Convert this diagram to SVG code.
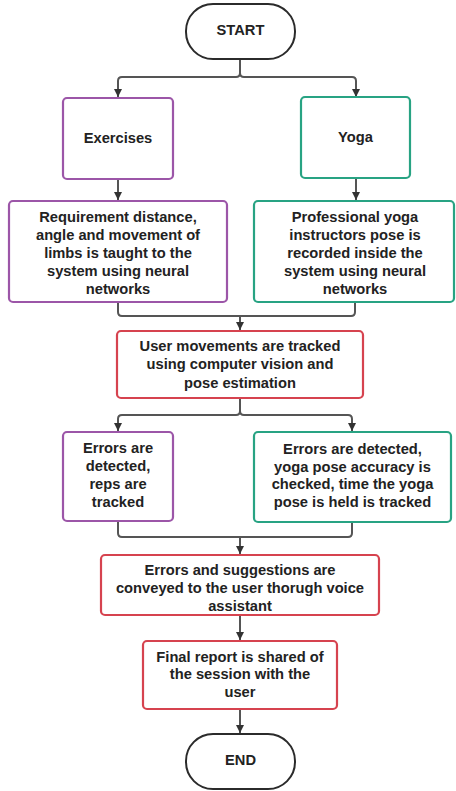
<svg xmlns="http://www.w3.org/2000/svg" width="456" height="791" viewBox="0 0 456 791">
<style>
text{font-family:"Liberation Sans",Arial,sans-serif;font-weight:bold;font-size:14.7px;fill:#222;text-anchor:middle}
.term{fill:#fff;stroke:#2b2b2b;stroke-width:2}
.pur{fill:#fff;stroke:#9c56a8;stroke-width:2.2}
.tea{fill:#fff;stroke:#28a383;stroke-width:2.2}
.red{fill:#fff;stroke:#d6434f;stroke-width:2.2}
.c{fill:none;stroke:#555;stroke-width:2}
</style>
<defs>
<marker id="ah" viewBox="0 0 10 10" refX="10" refY="5" markerWidth="8" markerHeight="8" markerUnits="userSpaceOnUse" orient="auto"><path d="M0,0 L10,5 L0,10 z" fill="#333"/></marker>
</defs>
<g id="connectors">
<path class="c" d="M240,59 V73 Q240,77 236,77 H122 Q118,77 118,81 V97" marker-end="url(#ah)"/>
<path class="c" d="M240,73 Q240,77 244,77 H352 Q356,77 356,81 V97" marker-end="url(#ah)"/>
<path class="c" d="M118,179 V200" marker-end="url(#ah)"/>
<path class="c" d="M356,178 V200" marker-end="url(#ah)"/>
<path class="c" d="M118,302 V312 Q118,316 122,316 H351 Q355,316 355,312 V302"/>
<path class="c" d="M240,316 V330" marker-end="url(#ah)"/>
<path class="c" d="M240,398 V411 Q240,415 236,415 H122 Q118,415 118,419 V431" marker-end="url(#ah)"/>
<path class="c" d="M240,411 Q240,415 244,415 H348 Q352,415 352,419 V431" marker-end="url(#ah)"/>
<path class="c" d="M118,521 V533 Q118,537 122,537 H348 Q352,537 352,533 V522"/>
<path class="c" d="M240,537 V554" marker-end="url(#ah)"/>
<path class="c" d="M240,615 V640" marker-end="url(#ah)"/>
<path class="c" d="M240,709 V733" marker-end="url(#ah)"/>
</g>
<g id="start">
<rect class="term" x="186" y="4" width="109" height="55" rx="27"/>
<text x="240.5" y="35">START</text>
</g>
<g id="exercises">
<rect class="pur" x="63" y="98" width="110" height="81" rx="4"/>
<text x="118" y="143">Exercises</text>
</g>
<g id="yoga">
<rect class="tea" x="301" y="97" width="109" height="81" rx="4"/>
<text x="355.5" y="142">Yoga</text>
</g>
<g id="ex-train">
<rect class="pur" x="9" y="201" width="218" height="101" rx="4"/>
<text x="118" y="222">Requirement distance,</text>
<text x="118" y="240">angle and movement of</text>
<text x="118" y="258">limbs is taught to the</text>
<text x="118" y="276">system using neural</text>
<text x="118" y="294">networks</text>
</g>
<g id="yoga-train">
<rect class="tea" x="254" y="201" width="200" height="101" rx="4"/>
<text x="355" y="222">Professional yoga</text>
<text x="355" y="240">instructors pose is</text>
<text x="355" y="258">recorded inside the</text>
<text x="355" y="276">system using neural</text>
<text x="355" y="294">networks</text>
</g>
<g id="track">
<rect class="red" x="117" y="331" width="246" height="67" rx="4"/>
<text x="240" y="351">User movements are tracked</text>
<text x="240" y="369">using computer vision and</text>
<text x="240" y="388">pose estimation</text>
</g>
<g id="ex-errors">
<rect class="pur" x="63" y="432" width="110" height="89" rx="4"/>
<text x="118" y="453">Errors are</text>
<text x="118" y="471">detected,</text>
<text x="118" y="489">reps are</text>
<text x="118" y="507">tracked</text>
</g>
<g id="yoga-errors">
<rect class="tea" x="254" y="432" width="197" height="90" rx="4"/>
<text x="352.5" y="454">Errors are detected,</text>
<text x="352.5" y="472">yoga pose accuracy is</text>
<text x="352.5" y="489">checked, time the yoga</text>
<text x="352.5" y="507">pose is held is tracked</text>
</g>
<g id="feedback">
<rect class="red" x="101" y="555" width="278" height="60" rx="4"/>
<text x="240" y="575">Errors and suggestions are</text>
<text x="240" y="593">conveyed to the user thorugh voice</text>
<text x="240" y="611">assistant</text>
</g>
<g id="report">
<rect class="red" x="143" y="641" width="194" height="68" rx="4"/>
<text x="240" y="662">Final report is shared of</text>
<text x="240" y="679">the session with the</text>
<text x="240" y="697">user</text>
</g>
<g id="end">
<rect class="term" x="186" y="734" width="109" height="55" rx="27"/>
<text x="240.5" y="765">END</text>
</g>
</svg>
